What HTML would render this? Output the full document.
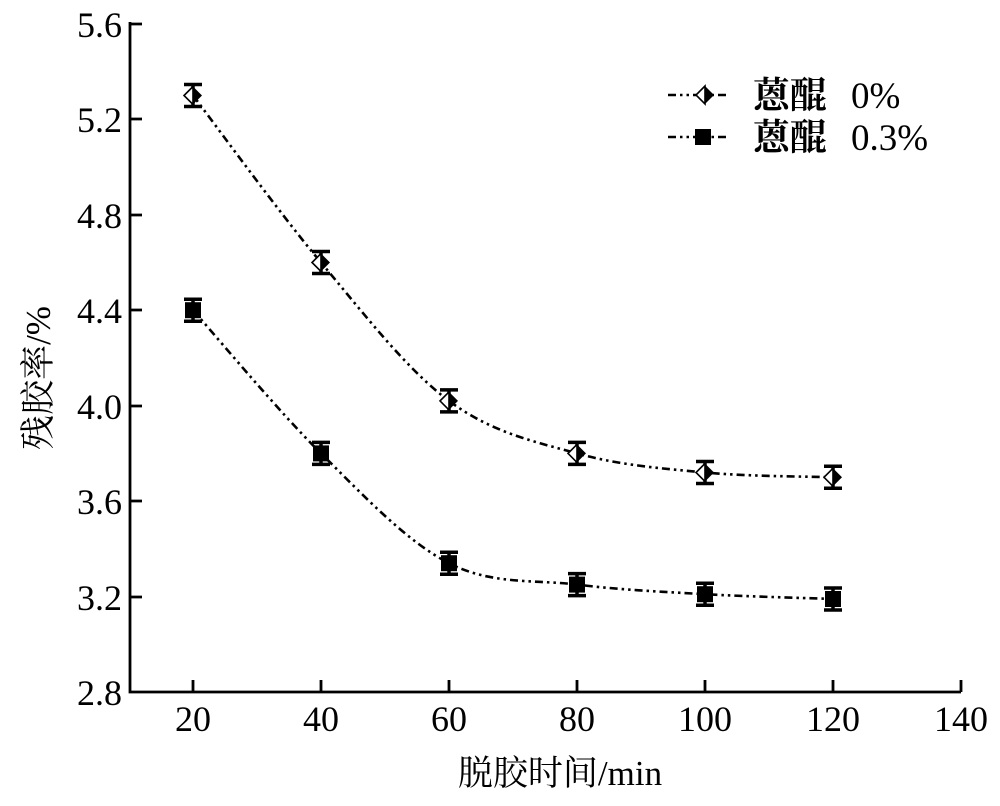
<!DOCTYPE html>
<html><head><meta charset="utf-8"><style>
html,body{margin:0;padding:0;background:#fff;}
svg{display:block;}
text{font-family:"Liberation Serif","Noto Serif CJK SC",serif;fill:#000;}
</style></head><body>
<svg width="1000" height="806" viewBox="0 0 1000 806" xmlns="http://www.w3.org/2000/svg">
<g stroke="#000" stroke-width="2.8" fill="none">
<path d="M130,22 V692 H961"/>
<path d="M130,24 h12 M130,119 h12 M130,215 h12 M130,310 h12 M130,406 h12 M130,501 h12 M130,597 h12"/>
<path d="M193,692 v-12 M321,692 v-12 M449,692 v-12 M577,692 v-12 M705,692 v-12 M833,692 v-12 M961,692 v-12"/>
</g>
<g font-size="36" text-anchor="end">
<text x="122" y="37">5.6</text><text x="122" y="132">5.2</text><text x="122" y="228">4.8</text>
<text x="122" y="323">4.4</text><text x="122" y="419">4.0</text><text x="122" y="514">3.6</text>
<text x="122" y="610">3.2</text><text x="122" y="705">2.8</text>
</g>
<g font-size="36" text-anchor="middle">
<text x="193" y="731">20</text><text x="321" y="731">40</text><text x="449" y="731">60</text>
<text x="577" y="731">80</text><text x="705" y="731">100</text><text x="833" y="731">120</text><text x="961" y="731">140</text>
<text x="560" y="785" font-size="35">脱胶时间/min</text>
<text transform="translate(50,378) rotate(-90)" font-size="35">残胶率/%</text>
</g>
<g stroke="#000" stroke-width="2.6" fill="none" stroke-dasharray="8 4 2.5 4 2.5 4">
<path d="M193,95.5 C214.3,123.3 278.3,211.6 321,262.5 C363.7,313.4 406.3,369.1 449,400.9 C491.7,432.7 534.3,441.5 577,453.4 C619.7,465.3 662.3,468.5 705,472.5 C747.7,476.5 811.7,476.5 833,477.3"/>
<path d="M193,310.2 C214.3,334.1 278.3,411.2 321,453.4 C363.7,495.6 406.3,541.3 449,563.2 C491.7,585.1 534.3,579.4 577,584.6 C619.7,589.8 662.3,591.8 705,594.2 C747.7,596.6 811.7,598.2 833,599"/>
</g>
<defs>
<g id="dia"><path d="M0,-9 L-9,0 L0,9 Z" fill="#fff" stroke="#000" stroke-width="1.6"/><path d="M0,-9 L9,0 L0,9 Z" fill="#000"/></g>
<g id="sq"><rect x="-8" y="-8" width="16" height="16" fill="#000"/></g>
<g id="eb"><path d="M0,-11 V11 M-9,-11 H9 M-9,11 H9" stroke="#000" stroke-width="3.5"/></g>
</defs>
<g>
<use href="#eb" x="193" y="95.5"/><use href="#dia" x="193" y="95.5"/>
<use href="#eb" x="321" y="262.5"/><use href="#dia" x="321" y="262.5"/>
<use href="#eb" x="449" y="400.9"/><use href="#dia" x="449" y="400.9"/>
<use href="#eb" x="577" y="453.4"/><use href="#dia" x="577" y="453.4"/>
<use href="#eb" x="705" y="472.5"/><use href="#dia" x="705" y="472.5"/>
<use href="#eb" x="833" y="477.3"/><use href="#dia" x="833" y="477.3"/>
<use href="#eb" x="193" y="310.2"/><use href="#sq" x="193" y="310.2"/>
<use href="#eb" x="321" y="453.4"/><use href="#sq" x="321" y="453.4"/>
<use href="#eb" x="449" y="563.2"/><use href="#sq" x="449" y="563.2"/>
<use href="#eb" x="577" y="584.6"/><use href="#sq" x="577" y="584.6"/>
<use href="#eb" x="705" y="594.2"/><use href="#sq" x="705" y="594.2"/>
<use href="#eb" x="833" y="599"/><use href="#sq" x="833" y="599"/>
</g>
<g stroke="#000" stroke-width="2.6" stroke-dasharray="8 4 2.5 4 2.5 4" fill="none">
<path d="M668,95 H730"/><path d="M668,137 H730"/>
</g>
<use href="#dia" x="705" y="95"/>
<use href="#sq" x="703" y="137"/>
<g font-size="37">
<text x="753" y="108" style="font-family:'Noto Serif CJK SC',serif" font-weight="bold">蒽醌</text>
<text x="851" y="108">0%</text>
<text x="753" y="150" style="font-family:'Noto Serif CJK SC',serif" font-weight="bold">蒽醌</text>
<text x="851" y="150">0.3%</text>
</g>
</svg>
</body></html>
